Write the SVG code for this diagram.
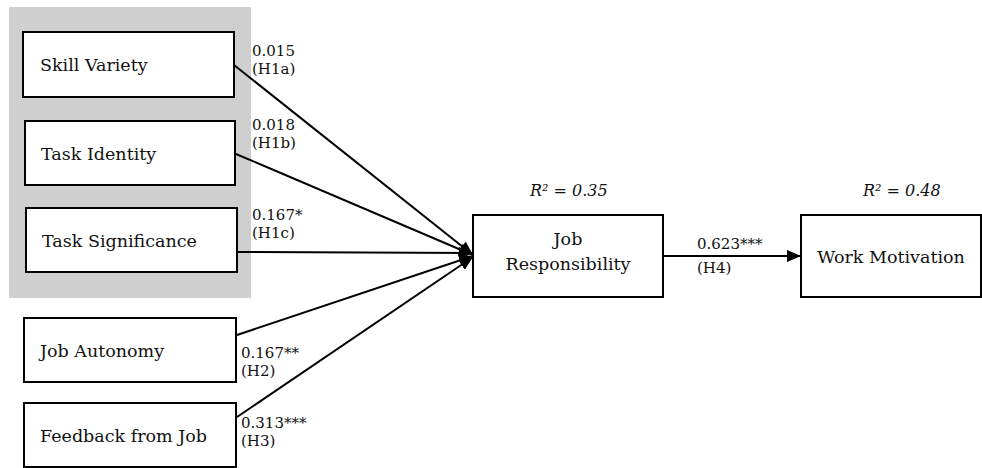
<svg xmlns="http://www.w3.org/2000/svg" width="982" height="468" viewBox="0 0 982 468">
<style>
.box{fill:#fff;stroke:#000;stroke-width:2}
.t{font-family:'DejaVu Serif',serif;font-size:17.5px;fill:#111}
.l{font-family:'DejaVu Serif',serif;font-size:15px;fill:#111}
.r{font-family:'DejaVu Serif',serif;font-size:16px;font-style:italic;fill:#111}
.c{stroke:#000;stroke-width:2;fill:none}
</style>
<defs>
<marker id="ah" viewBox="0 0 14 12" refX="14" refY="6" markerWidth="14" markerHeight="12" markerUnits="userSpaceOnUse" orient="auto">
<path d="M0,0 L14,6 L0,12 Z" fill="#000"/>
</marker>
</defs>
<rect x="9" y="7" width="242" height="291" fill="#d0cfd0"/>
<g id="connectors">
<line class="c" x1="234" y1="65" x2="473" y2="255" marker-end="url(#ah)"/>
<line class="c" x1="236" y1="154" x2="473" y2="255" marker-end="url(#ah)"/>
<line class="c" x1="237" y1="252" x2="473" y2="253" marker-end="url(#ah)"/>
<line class="c" x1="237" y1="335" x2="473" y2="256" marker-end="url(#ah)"/>
<line class="c" x1="237" y1="417" x2="473" y2="257" marker-end="url(#ah)"/>
<line class="c" x1="663" y1="256" x2="801" y2="256" marker-end="url(#ah)"/>
<text class="l" x="252" y="56">0.015</text>
<text class="l" x="252" y="74">(H1a)</text>
<text class="l" x="252" y="130">0.018</text>
<text class="l" x="252" y="148">(H1b)</text>
<text class="l" x="252" y="220">0.167*</text>
<text class="l" x="252" y="238">(H1c)</text>
<text class="l" x="241" y="358">0.167**</text>
<text class="l" x="241" y="376">(H2)</text>
<text class="l" x="241" y="428">0.313***</text>
<text class="l" x="241" y="446">(H3)</text>
<text class="l" x="697" y="249">0.623***</text>
<text class="l" x="697" y="273">(H4)</text>
</g>
<g id="skill-variety">
<rect class="box" x="23" y="32" width="211" height="65"/>
<text class="t" x="40" y="71">Skill Variety</text>
</g>
<g id="task-identity">
<rect class="box" x="25" y="121" width="210" height="64"/>
<text class="t" x="41" y="160">Task Identity</text>
</g>
<g id="task-significance">
<rect class="box" x="26" y="208" width="211" height="64"/>
<text class="t" x="42" y="247">Task Significance</text>
</g>
<g id="job-autonomy">
<rect class="box" x="24" y="318" width="212" height="64"/>
<text class="t" x="40" y="357">Job Autonomy</text>
</g>
<g id="feedback-from-job">
<rect class="box" x="24" y="403" width="212" height="64"/>
<text class="t" x="40" y="442">Feedback from Job</text>
</g>
<g id="job-responsibility">
<rect class="box" x="473" y="215" width="190" height="82"/>
<text class="t" x="568" y="245" text-anchor="middle">Job</text>
<text class="t" x="568" y="270" text-anchor="middle">Responsibility</text>
<text class="r" x="530" y="196">R² = 0.35</text>
</g>
<g id="work-motivation">
<rect class="box" x="801" y="215" width="180" height="82"/>
<text class="t" x="891" y="263" text-anchor="middle">Work Motivation</text>
<text class="r" x="863" y="196">R² = 0.48</text>
</g>
</svg>
